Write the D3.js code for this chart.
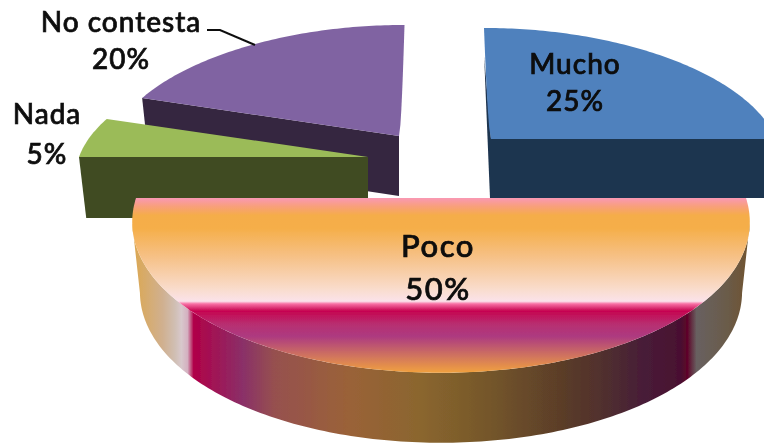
<!DOCTYPE html>
<html><head><meta charset="utf-8">
<script src="https://cdn.jsdelivr.net/npm/d3@7"></script>
<style>html,body{margin:0;padding:0;background:#fff;overflow:hidden}svg{display:block}text{font-family:Lato,"Open Sans",sans-serif;fill:#0a0a0a;text-anchor:middle}</style>
</head><body>
<script>
const categories = ["Mucho","Poco","Nada","No contesta"];
const values = [25,50,5,20];
const topColors = ["#4f81bd",null,"#9bbb59","#8064a2"];
const wallColors = ["#1f3450",null,"#3f4c23","#35263f"];
const faceStops = [[0,"#f998b4"],[.05,"#f8a078"],[.1,"#f5ad48"],[.17,"#f5ae48"],[.33,"#f6c084"],[.52,"#f9dccc"],[.59,"#fbe2ea"],[.605,"#f870a4"],[.645,"#c60450"],[.72,"#b82e70"],[.79,"#ad3a80"],[.89,"#cc6e62"],[1,"#f2a23e"]];
const wallStops = [[0,"#dca74e"],[.05,"#d0b090"],[.07,"#d0bfb4"],[.08,"#d8c8cc"],[.09,"#d4b0c0"],[.1,"#b00048"],[.18,"#8a3068"],[.23,"#96504f"],[.35,"#9a6238"],[.47,"#8a662e"],[.58,"#74562a"],[.7,"#5a3c28"],[.78,"#4e2c30"],[.83,"#471c38"],[.89,"#4a1030"],[.9,"#5e0428"],[.915,"#686060"],[.96,"#6a5c4c"],[1,"#705430"]];

// layout of each exploded slice: apex, horizontal radius, depth scale, wall height, lean
const apex = [[491,139],[441,198],[368,157],[399,136]];
const radiusX = [285,305,289,286];
const radiusY = [128.4,154,128.4,128.4];
const wall = [59,70,61,60];
const lean = [-7,0,0,5.5];

const W=764,H=444;
const svg=d3.select("body").append("svg").attr("width",W).attr("height",H);
const defs=svg.append("defs");
defs.append("filter").attr("id","soft").append("feGaussianBlur").attr("stdDeviation",.45);
function grad(id,stops,x1,y1,x2,y2){
  const g=defs.append("linearGradient").attr("id",id).attr("gradientUnits","userSpaceOnUse")
    .attr("x1",x1).attr("y1",y1).attr("x2",x2).attr("y2",y2);
  stops.forEach(s=>g.append("stop").attr("offset",s[0]).attr("stop-color",s[1]));
}
grad("pocoFace",faceStops,0,198,0,373);
grad("pocoWall",wallStops,132,0,749,0);

const arcs=d3.pie().sort(null).value(d=>d)(values);
// perspective projection of pie angle t on slice i; level 0 = top face, 1 = bottom face
function project(i,t,level){
  const s=Math.sin(t),c=Math.cos(t);
  const x=radiusX[i]*s*(1-.16*c)*(level?.975:1)+lean[i]*Math.max(c,0);
  const y=-radiusY[i]*c*(1-.135*c);
  return [apex[i][0]+x,apex[i][1]+y+(level?wall[i]:0)];
}
const line=d3.line();
function sweep(i,a,b,level){
  const n=Math.max(8,Math.ceil(Math.abs(b-a)*60));
  return d3.range(n+1).map(k=>project(i,a+(b-a)*k/n,level));
}
// the radial edge at angle 0 bows outward in the picture
function spine(i,r){
  const top=project(i,0,0);
  return [apex[i][0]+lean[i]*Math.pow(r,.6),apex[i][1]+(top[1]-apex[i][1])*r];
}
const spineSteps=[.1,.25,.4,.55,.7,.85];
const root=svg.append("g").attr("filter","url(#soft)");
function sector(i){
  const a=arcs[i];
  const pts=sweep(i,a.startAngle,a.endAngle,0);
  if(lean[i]<0) return [apex[i],...spineSteps.map(r=>spine(i,r)),...pts];
  if(lean[i]>0) return [apex[i],...pts,...spineSteps.slice().reverse().map(r=>spine(i,r))];
  return [apex[i],...pts];
}
function cutWall(i,t){
  const p=project(i,t,0),q=project(i,t,1);
  return [apex[i],p,q,[apex[i][0],apex[i][1]+wall[i]]];
}
// Mucho
const sp=spine(0,.75);
root.append("path").attr("d",line([apex[0],[sp[0]-1,sp[1]],[apex[0][0]-1,apex[0][1]+wall[0]],[apex[0][0],apex[0][1]+wall[0]]])+"Z").attr("fill",wallColors[0]);
root.append("path").attr("d",line(cutWall(0,arcs[0].endAngle))+"Z").attr("fill",wallColors[0]);
root.append("path").attr("d",line(sector(0))+"Z").attr("fill",topColors[0]);
// No contesta
root.append("path").attr("d",line(cutWall(3,arcs[3].startAngle))+"Z").attr("fill",wallColors[3]);
root.append("path").attr("d",line(sector(3))+"Z").attr("fill",topColors[3]);
// Nada
root.append("path").attr("d",line(cutWall(2,arcs[2].startAngle))+"Z").attr("fill",wallColors[2]);
root.append("path").attr("d",line(sector(2))+"Z").attr("fill",topColors[2]);
// Poco
const tA=arcs[1].startAngle+.16,tB=arcs[1].endAngle-.16;
root.append("path").attr("d",line([...sweep(1,tA,tB,0),...sweep(1,tB,tA,1)])+"Z").attr("fill","url(#pocoWall)");
root.append("path").attr("d",line(sector(1))+"Z").attr("fill","url(#pocoFace)");

// leader
root.append("path").attr("d",line([[207,30],[220,30],[255,45]])).attr("fill","none").attr("stroke","#111").attr("stroke-width",2);

// labels
const labelAt=[[575,74,111],[438,257,300],[47,124,164],[121,32,69]];
categories.forEach((c,i)=>{
  const l=labelAt[i],fs=i==1?31:28;
  const t=root.append("text").attr("font-size",fs).attr("font-weight",500).attr("letter-spacing",i==1?1.6:1).attr("stroke","#0a0a0a").attr("stroke-width",.7);
  t.append("tspan").attr("x",l[0]).attr("y",l[1]).text(c);
  t.append("tspan").attr("x",l[0]).attr("y",l[2]).text(values[i]+"%");
});
</script>
</body></html>
